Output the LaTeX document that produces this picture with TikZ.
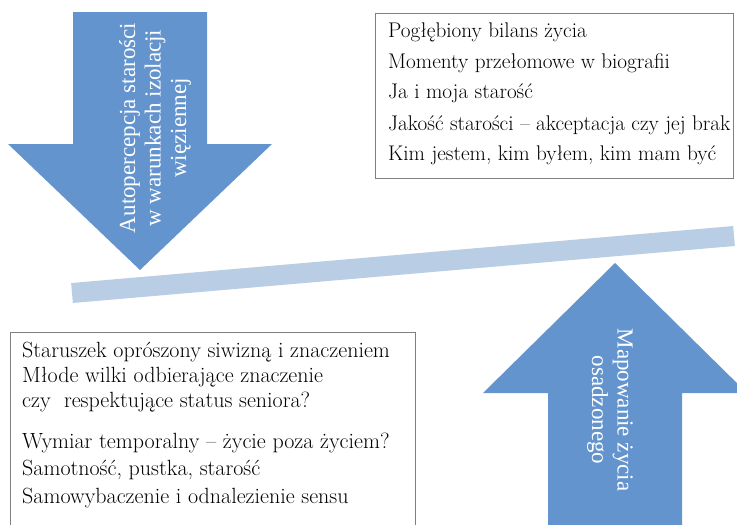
\documentclass[tikz,border=0pt]{standalone}
\usepackage{fontspec}
\newfontfamily\arrowfont{Liberation Serif}
\definecolor{arrowblue}{RGB}{99,148,205}
\definecolor{barblue}{RGB}{185,205,229}
\definecolor{boxgray}{RGB}{128,128,128}
\begin{document}
\begin{tikzpicture}[x=1pt,y=-1pt,
  arrowshape/.style={fill=arrowblue, draw=none},
  bartilt/.style={draw=barblue, line width=20pt, line cap=butt},
  textbox/.style={draw=boxgray, line width=1pt},
  boxline/.style={anchor=base west, inner sep=0pt, font=\fontsize{21.2}{24}\selectfont},
  boxlineb/.style={anchor=base west, inner sep=0pt, font=\fontsize{22}{24}\selectfont},
  arrowlabel/.style={text=white, align=center, inner sep=0pt, font=\arrowfont\fontsize{23}{25.5}\selectfont}]
\useasboundingbox (0,0) rectangle (737,525);
\clip (0,0) rectangle (737,525);
% seesaw bar
\coordinate (barL) at (72,293);
\coordinate (barR) at (734,236);
\draw[bartilt] (barL) -- (barR);
% down arrow
\fill[arrowshape] (73,12) -- (207,12) -- (207,144) -- (272,144) -- (140,270) -- (8,144) -- (73,144) -- cycle;
\node[arrowlabel, rotate=90] (downlabel) at (155,128) {Autopercepcja starości\\w warunkach izolacji\\więziennej};
% up arrow
\fill[arrowshape] (615,263) -- (747,393) -- (682,393) -- (682,540) -- (548,540) -- (548,393) -- (483,393) -- cycle;
\node[arrowlabel, rotate=-90] (uplabel) at (610,410) {Mapowanie życia\\osadzonego};
% top right box
\draw[textbox] (375,13) rectangle (733,178);
\node[boxline] (t1) at (388,37) {Pogłębiony bilans życia};
\node[boxline] (t2) at (388,68) {Momenty przełomowe w biografii};
\node[boxline] (t3) at (388,98) {Ja i moja starość};
\node[boxline] (t4) at (388,130) {Jakość starości – akceptacja czy jej brak};
\node[boxline] (t5) at (388,160) {Kim jestem, kim byłem, kim mam być};
% bottom left box
\draw[textbox] (10,332) rectangle (415,540);
\node[boxlineb] (b1) at (22,357) {Staruszek oprószony siwizną i znaczeniem};
\node[boxlineb] (b2) at (22,382) {Młode wilki odbierające znaczenie};
\node[boxlineb] (b3) at (22,407) {czy\ \ respektujące status seniora?};
\node[boxlineb] (b4) at (22,448) {Wymiar temporalny – życie poza życiem?};
\node[boxlineb] (b5) at (22,475) {Samotność, pustka, starość};
\node[boxlineb] (b6) at (22,503) {Samowybaczenie i odnalezienie sensu};
\end{tikzpicture}
\end{document}
